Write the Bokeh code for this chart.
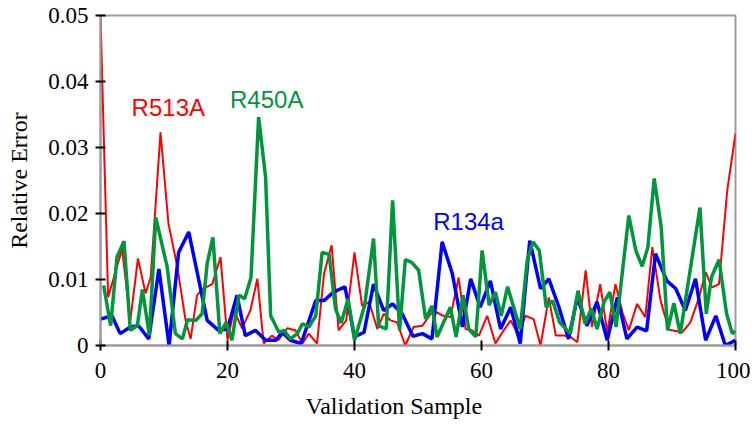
from bokeh.plotting import figure
from bokeh.models import Range1d, FixedTicker, CustomJSTickFormatter, Label, Title
from bokeh.embed import file_html
from bokeh.resources import INLINE

# ---- data (relative error) ----
red_x = [0, 1.2, 3.4, 4.7, 5.9, 7.1, 7.9, 9.45, 10.7, 12.1,
         13.4, 14.2, 15.2, 16.0, 17.6, 18.9, 20.0, 21.0, 22.3, 23.6,
         24.7, 25.7, 27.0, 28.0, 29.4, 30.7, 31.8, 32.8, 34.1, 35.2,
         36.4, 37.5, 38.7, 40.0, 41.2, 42.3, 43.6, 44.6, 45.7, 46.7,
         48.0, 49.3, 50.7, 52.0, 53.0, 54.0, 55.1, 56.4, 57.5, 58.5,
         59.6, 60.9, 62.2, 63.5, 64.6, 65.9, 66.9, 68.2, 69.3, 70.6,
         71.7, 73.0, 74.0, 75.1, 76.4, 77.4, 78.7, 79.8, 81.1, 82.2,
         83.2, 84.5, 85.8, 86.9, 88.2, 89.5, 90.6, 91.6, 92.9, 94.2,
         95.3, 96.3, 97.4, 98.7, 100]
red_y = [50, 7.3, 14.6, 3.8, 13.2, 7.9, 10.3, 32.3, 18.5, 11.9,
         3.8, 1.0, 7.6, 8.5, 9.3, 13.4, 0.8, 5.3, 2.6, 5.3,
         10.1, 0.3, 1.5, 0.8, 2.6, 2.3, 0.3, 1.8, 0.3, 10.9,
         15.2, 2.3, 3.8, 14.1, 6.0, 6.6, 2.5, 4.8, 3.8, 3.5,
         0.0, 2.8, 3.0, 4.8, 5.0, 4.5, 4.3, 10.3, 2.5, 2.3,
         1.5, 4.5, 0.3, 2.3, 3.8, 1.3, 4.5, 4.0, 0.0, 7.3,
         1.5, 1.5, 1.3, 0.5, 11.4, 2.8, 9.3, 2.0, 9.3, 5.0,
         2.3, 6.3, 4.3, 14.9, 6.8, 2.4, 2.2, 2.0, 3.5, 7.1,
         11.1, 8.8, 9.3, 23.5, 32.1]

blue_x = [0, 1.8, 3.1, 4.7, 6.0, 7.6, 9.2, 10.8, 12.3, 13.9,
          16.8, 18.6, 20.0, 21.5, 22.8, 24.4, 26.0, 27.6, 28.6,
          29.9, 31.6, 33.9, 35.2, 36.7, 38.5, 40.0, 41.5, 43.0, 44.6,
          46.0, 47.5, 49.2, 50.7, 52.2, 53.8, 55.4, 57.0, 58.3, 59.8,
          61.4, 63.0, 64.6, 66.1, 67.6, 69.3, 70.6, 72.2, 73.7, 75.1,
          76.6, 78.2, 79.8, 81.4, 82.9, 84.5, 86.0, 87.4, 89.2, 90.6,
          92.1, 93.7, 95.3, 96.9, 98.4, 100]
blue_y = [4.0, 4.5, 1.8, 2.8, 3.0, 1.0, 11.6, 0.0, 14.1, 17.2,
          3.8, 2.3, 2.5, 7.6, 1.5, 2.3, 0.8, 0.8, 2.0,
          0.8, 0.3, 6.8, 6.8, 8.1, 8.9, 1.3, 2.0, 9.3, 5.3,
          6.3, 4.8, 1.4, 1.8, 1.0, 15.7, 10.9, 2.8, 10.1, 5.8,
          9.8, 2.5, 5.8, 0.3, 15.9, 8.6, 10.1, 5.8, 1.0, 7.3,
          3.0, 6.6, 0.8, 7.3, 1.0, 2.8, 2.2, 13.9, 9.8, 8.6,
          5.3, 10.1, 0.8, 4.5, 0.0, 0.8]

green_x = [0.5, 1.6, 2.6, 3.7, 4.7, 5.8, 6.6, 7.7, 8.7, 10.5,
           11.8, 12.9, 13.7, 15.0, 16.0, 16.8, 17.7, 18.8, 19.8, 20.7,
           21.8, 22.7, 23.7, 24.9, 26.0, 26.8, 28.1, 28.9, 29.9, 31.0,
           31.8, 32.8, 33.9, 34.9, 36.0, 37.0, 37.9, 39.0, 40.0, 41.6,
           43.0, 43.8, 45.0, 46.0, 47.1, 48.0, 49.0, 50.1, 51.2, 52.2,
           53.0, 55.1, 56.0, 57.1, 58.0, 59.1, 60.1, 61.2, 62.2, 63.1,
           64.1, 66.1, 67.2, 68.1, 69.1, 70.2, 71.2, 72.3, 74.0, 75.2,
           76.3, 77.3, 78.2, 79.3, 80.2, 81.2, 83.2, 84.3, 85.3, 86.2,
           87.2, 88.3, 89.3, 90.3, 91.3, 94.4, 95.4, 96.2, 97.4, 98.6,
           99.5, 100]
green_y = [9.1, 3.0, 13.4, 15.8, 2.3, 3.0, 8.5, 1.5, 19.4, 11.9,
           1.8, 1.0, 3.9, 3.8, 4.8, 12.4, 16.4, 1.8, 3.5, 0.8,
           7.6, 7.1, 10.3, 34.6, 25.5, 4.5, 2.0, 2.3, 1.0, 1.8,
           3.3, 2.8, 4.5, 14.1, 13.8, 5.6, 3.4, 7.1, 0.8, 6.1,
           16.2, 3.0, 2.5, 22.0, 2.3, 13.0, 12.6, 11.4, 4.0, 6.0,
           1.3, 5.8, 1.3, 7.6, 2.5, 1.3, 14.4, 6.1, 8.1, 4.5,
           8.9, 2.5, 12.9, 15.7, 14.4, 5.8, 6.8, 3.5, 1.8, 8.3,
           3.3, 5.6, 2.5, 6.6, 8.1, 2.8, 19.7, 14.4, 12.0, 14.9,
           25.3, 17.9, 2.3, 6.4, 1.8, 20.9, 4.8, 10.3, 13.0, 4.8,
           1.8, 2.2]

x_ticks = [0, 20, 40, 60, 80, 100]
y_ticks = [0, 0.01, 0.02, 0.03, 0.04, 0.05]

series_names = ["R513A", "R450A", "R134a"]
label_x = [4.9, 20.4, 52.4]
label_y = [0.0361, 0.0372, 0.0188]

x_title = "Validation Sample"

scale = 0.001
RED, GREEN, BLUE = "#ff0000", "#00963c", "#0000ff"
AX = "#9b9b9b"
SERIF = "Liberation Serif"

p = figure(width=750, height=428, x_range=Range1d(0, 100), y_range=Range1d(0, 0.05),
           output_backend="svg", toolbar_location=None,
           min_border_left=100, min_border_right=15, min_border_top=15, min_border_bottom=83,
           y_axis_label="Relative Error")

p.background_fill_color = "white"
p.border_fill_color = "white"
p.grid.grid_line_color = None
p.outline_line_color = AX
p.outline_line_width = 2

p.xaxis.ticker = FixedTicker(ticks=x_ticks)
p.yaxis.ticker = FixedTicker(ticks=y_ticks)
p.yaxis.formatter = CustomJSTickFormatter(code="return tick === 0 ? '0' : tick.toFixed(2);")

for ax in (p.xaxis[0], p.yaxis[0]):
    ax.axis_line_color = AX
    ax.axis_line_width = 2
    ax.major_tick_line_color = "black"
    ax.major_tick_line_width = 2
    ax.major_tick_in = 5
    ax.major_tick_out = 5
    ax.minor_tick_line_color = None
    ax.major_label_text_font = SERIF
    ax.major_label_text_font_size = "23px"
    ax.major_label_text_color = "black"
    ax.axis_label_text_font = SERIF
    ax.axis_label_text_font_size = "24px"
    ax.axis_label_text_font_style = "normal"
    ax.axis_label_text_color = "black"

p.xaxis.major_label_standoff = 12
p.yaxis.major_label_standoff = 7
p.yaxis.axis_label_standoff = 13

# x-axis title, left of the frame centre as in the reference
p.add_layout(Title(text=x_title, align="left", offset=205, standoff=20,
                   text_font=SERIF, text_font_size="24px", text_font_style="normal",
                   text_color="black"), "below")

p.line(red_x, [v * scale for v in red_y], line_color=RED, line_width=2)
p.line(blue_x, [v * scale for v in blue_y], line_color=BLUE, line_width=3.5)
p.line(green_x, [v * scale for v in green_y], line_color=GREEN, line_width=3.5)

for name, lx, ly, col in zip(series_names, label_x, label_y, [RED, GREEN, BLUE]):
    p.add_layout(Label(x=lx, y=ly, text=name, text_color=col, text_font="Liberation Sans",
                       text_font_size="24px", text_baseline="alphabetic", text_align="left"))

open("out.html", "w").write(file_html(p, INLINE))
